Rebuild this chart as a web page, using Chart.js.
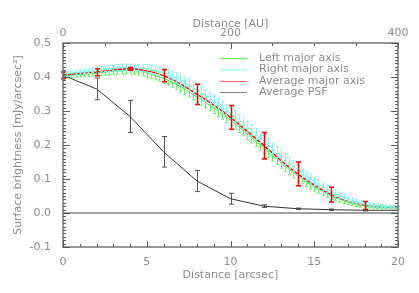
<!DOCTYPE html>
<html><head><meta charset="utf-8">
<script src="https://cdn.jsdelivr.net/npm/chart.js@4.4.1/dist/chart.umd.min.js"></script>
<style>html,body{margin:0;padding:0;background:#fff}canvas{display:block}</style>
</head><body>
<canvas id="c" width="419" height="293"></canvas>
<script>
// ---- data ----
const avgX = [0,1,2,3,4,5,6,7,8,9,10,11,12,13,14,15,16,17,18,19,20];
const avgY = [0.405,0.410,0.414,0.420,0.424,0.418,0.404,0.380,0.349,0.317,0.281,0.240,0.198,0.155,0.115,0.082,0.054,0.034,0.022,0.017,0.0155];
const avgErrX = [0,2,4,6,8,10,12,14,16,18];
const avgErr = [0.010,0.010,0.004,0.018,0.030,0.035,0.039,0.035,0.022,0.012];

const fineX = [0,0.25,0.5,0.75,1,1.25,1.5,1.75,2,2.25,2.5,2.75,3,3.25,3.5,3.75,4,4.25,4.5,4.75,5,5.25,5.5,5.75,6,6.25,6.5,6.75,7,7.25,7.5,7.75,8,8.25,8.5,8.75,9,9.25,9.5,9.75,10,10.25,10.5,10.75,11,11.25,11.5,11.75,12,12.25,12.5,12.75,13,13.25,13.5,13.75,14,14.25,14.5,14.75,15,15.25,15.5,15.75,16,16.25,16.5,16.75,17,17.25,17.5,17.75,18,18.25,18.5,18.75,19,19.25,19.5,19.75,20];
const leftY = [0.403,0.404,0.405,0.406,0.407,0.408,0.409,0.410,0.411,0.413,0.414,0.415,0.417,0.418,0.418,0.419,0.419,0.418,0.416,0.414,0.411,0.408,0.404,0.400,0.396,0.391,0.385,0.379,0.372,0.365,0.357,0.349,0.341,0.333,0.325,0.317,0.309,0.300,0.291,0.282,0.273,0.263,0.253,0.243,0.232,0.222,0.211,0.201,0.190,0.179,0.169,0.159,0.148,0.138,0.128,0.119,0.109,0.100,0.092,0.084,0.077,0.070,0.063,0.057,0.050,0.045,0.041,0.036,0.032,0.029,0.026,0.023,0.021,0.020,0.019,0.018,0.017,0.016,0.016,0.015,0.015];
const rightY = [0.407,0.409,0.411,0.413,0.415,0.417,0.418,0.420,0.421,0.423,0.424,0.425,0.426,0.427,0.428,0.428,0.428,0.428,0.427,0.426,0.425,0.423,0.420,0.417,0.413,0.409,0.404,0.398,0.392,0.385,0.378,0.370,0.362,0.354,0.346,0.338,0.330,0.321,0.312,0.303,0.294,0.284,0.274,0.264,0.254,0.244,0.233,0.223,0.212,0.201,0.190,0.179,0.168,0.158,0.148,0.138,0.128,0.118,0.109,0.101,0.093,0.085,0.078,0.071,0.064,0.058,0.052,0.046,0.041,0.037,0.033,0.030,0.027,0.025,0.023,0.021,0.020,0.019,0.018,0.018,0.017];
const leftErr = [0.007,0.007,0.007,0.007,0.007,0.007,0.007,0.007,0.008,0.008,0.008,0.008,0.008,0.010,0.010,0.010,0.010,0.010,0.010,0.010,0.012,0.012,0.012,0.012,0.015,0.015,0.015,0.015,0.016,0.016,0.016,0.016,0.016,0.016,0.016,0.016,0.016,0.016,0.016,0.016,0.016,0.016,0.016,0.016,0.016,0.016,0.016,0.016,0.016,0.016,0.016,0.016,0.016,0.016,0.016,0.016,0.015,0.014,0.014,0.013,0.013,0.012,0.012,0.011,0.010,0.009,0.009,0.008,0.008,0.007,0.007,0.006,0.006,0.005,0.005,0.005,0.005,0.004,0.004,0.004,0.004];
const rightErr = [0.007,0.007,0.007,0.007,0.007,0.007,0.007,0.007,0.008,0.008,0.008,0.008,0.008,0.010,0.010,0.010,0.010,0.010,0.010,0.010,0.012,0.012,0.012,0.012,0.015,0.015,0.015,0.015,0.016,0.016,0.016,0.016,0.016,0.016,0.016,0.016,0.016,0.016,0.016,0.016,0.016,0.016,0.016,0.016,0.016,0.016,0.016,0.016,0.016,0.016,0.016,0.016,0.016,0.016,0.016,0.016,0.015,0.014,0.014,0.013,0.013,0.012,0.012,0.011,0.010,0.009,0.009,0.008,0.008,0.007,0.007,0.006,0.006,0.005,0.005,0.005,0.005,0.004,0.004,0.004,0.004];

const psfX = [0,2,4,6,8,10,12,14,16,18,20];
const psfY = [0.405,0.365,0.284,0.180,0.094,0.042,0.020,0.0126,0.0097,0.008,0.008];
const psfErr = [0,0.032,0.047,0.045,0.031,0.016,0.004,0.002,0.002,0.002,0];

const zeroX = [0,20];
const zeroY = [0,0];

const xTicks = [0,5,10,15,20];
const auTicks = [0,200,400];
const yTicks = [-0.1,0.0,0.1,0.2,0.3,0.4,0.5];

const legendLabels = ['Left major axis','Right major axis','Average major axis','Average PSF'];
const legendColors = ['#5cf05c','#80f8ff','#ff6060','#808080'];

// ---- build ----
const pts = (xs, ys) => xs.map((x,i)=>({x, y: ys[i]}));
const FONT = '"DejaVu Sans", sans-serif';
const TXT = '#8c8c8c';

const datasets = [
  {label:'Right major axis', data: pts(fineX,rightY), errs: rightErr, errColor:'#80f8ff', cap:1.5, borderColor:'#80f8ff', borderWidth:1, pointRadius:0, tension:0.3},
  {label:'Left major axis', data: pts(fineX,leftY), errs: leftErr, errColor:'#66f266', cap:1.5, borderColor:'#44ee44', borderWidth:1, pointRadius:0, tension:0.3},
  {label:'zero', data: pts(zeroX,zeroY), borderColor:'#a0a0a0', borderWidth:2, pointRadius:0},
  {label:'Average PSF', data: pts(psfX,psfY), errs: psfErr, errColor:'#555555', cap:2.5, borderColor:'#333333', borderWidth:1, pointRadius:0, tension:0},
  {label:'Average major axis', data: pts(avgX,avgY), borderColor:'#ff0000', borderWidth:1.5, pointRadius:0, cubicInterpolationMode:'monotone'},
];

const errPlugin = {
  id:'errs',
  beforeDatasetDraw(chart, args){
    const ds = chart.data.datasets[args.index];
    if(!ds.errs) return;
    const xs = chart.scales.x, ys = chart.scales.y, ctx = chart.ctx;
    ctx.save();
    ctx.strokeStyle = ds.errColor; ctx.lineWidth = 1;
    ds.data.forEach((p,i)=>{
      const e = ds.errs[i]; if(!e) return;
      const px = Math.round(xs.getPixelForValue(p.x))+0.5;
      const y1 = ys.getPixelForValue(p.y+e), y2 = ys.getPixelForValue(p.y-e);
      ctx.beginPath();
      ctx.moveTo(px,y1); ctx.lineTo(px,y2);
      ctx.moveTo(px-ds.cap,y1); ctx.lineTo(px+ds.cap,y1);
      ctx.moveTo(px-ds.cap,y2); ctx.lineTo(px+ds.cap,y2);
      ctx.stroke();
    });
    ctx.restore();
  },
  afterDatasetsDraw(chart){
    const xs = chart.scales.x, ys = chart.scales.y, ctx = chart.ctx;
    ctx.save(); ctx.strokeStyle='#ff0000'; ctx.lineWidth=1.5;
    avgErrX.forEach((x,i)=>{
      const y = avgY[avgX.indexOf(x)], e = avgErr[i];
      const px = Math.round(xs.getPixelForValue(x))+0.5;
      const y1 = ys.getPixelForValue(y+e), y2 = ys.getPixelForValue(y-e);
      ctx.beginPath();
      ctx.moveTo(px,y1); ctx.lineTo(px,y2);
      ctx.moveTo(px-2.5,y1); ctx.lineTo(px+2.5,y1);
      ctx.moveTo(px-2.5,y2); ctx.lineTo(px+2.5,y2);
      ctx.stroke();
    });
    ctx.restore();
  }
};

const framePlugin = {
  id:'frame',
  afterDraw(chart){
    const ctx = chart.ctx;
    const a = chart.chartArea;
    const xs = chart.scales.x, x2 = chart.scales.x2, ys = chart.scales.y;
    ctx.save();
    ctx.strokeStyle = '#777777'; ctx.lineWidth = 1.5;
    ctx.strokeRect(a.left, a.top, a.right-a.left, a.bottom-a.top);
    ctx.restore();
    ctx.save();
    ctx.fillStyle = '#5a5a5a';
    const L0 = Math.round(a.left), R0 = Math.round(a.right), T0 = Math.round(a.top), B0 = Math.round(a.bottom);
    for(let v=0; v<=20; v+=1){
      const px = Math.round(xs.getPixelForValue(v));
      const L = (v%5===0)?6:3;
      ctx.fillRect(px, B0-L, 1, L);
    }
    for(let v=0; v<=400; v+=50){
      const px = Math.round(x2.getPixelForValue(v));
      const L = (v%200===0)?6:3;
      ctx.fillRect(px, T0, 1, L);
    }
    for(let k=-10; k<=50; k++){
      const py = Math.round(ys.getPixelForValue(k/100));
      const L = (k%10===0)?7:3;
      ctx.fillRect(L0, py, L, 1);
      ctx.fillRect(R0-L, py, L, 1);
    }
    ctx.restore();
    ctx.save();
    ctx.fillStyle = TXT;
    ctx.font = '11px ' + FONT;
    ctx.textAlign = 'center'; ctx.textBaseline = 'middle';
    const cx = (a.left+a.right)/2;
    ctx.fillText('Distance [arcsec]', cx, 275);
    ctx.fillText('Distance [AU]', cx, 24);
    ctx.save();
    ctx.translate(18,(a.top+a.bottom)/2); ctx.rotate(-Math.PI/2);
    ctx.fillText('Surface brightness [mJy/arcsec\u00B2]', 0, 0);
    ctx.restore();
    ctx.textAlign='left';
    const ly = [58,69.5,81,92];
    legendLabels.forEach((t,i)=>{
      ctx.strokeStyle = legendColors[i]; ctx.lineWidth = 1;
      ctx.beginPath(); ctx.moveTo(220, ly[i]+0.5); ctx.lineTo(247, ly[i]+0.5); ctx.stroke();
      ctx.fillText(t, 259, ly[i]);
    });
    ctx.restore();
  }
};

new Chart(document.getElementById('c'), {
  type:'line',
  data:{datasets},
  plugins:[errPlugin, framePlugin],
  options:{
    responsive:false, animation:false, devicePixelRatio:1,
    layout:{padding:{left:0,right:21,top:0,bottom:0}},
    plugins:{legend:{display:false}, tooltip:{enabled:false}},
    scales:{
      x:{type:'linear', position:'bottom', min:0, max:20,
         afterBuildTicks(s){ s.ticks = xTicks.map(v=>({value:v})); },
         afterFit(s){ s.height = 46; },
         grid:{display:false, drawTicks:false}, border:{display:false},
         ticks:{color:TXT, font:{family:FONT,size:11}, padding:9, maxRotation:0, autoSkip:false}},
      x2:{type:'linear', position:'top', min:0, max:400, display:true,
         afterBuildTicks(s){ s.ticks = auTicks.map(v=>({value:v})); },
         afterFit(s){ s.height = 43; },
         grid:{display:false, drawTicks:false}, border:{display:false},
         ticks:{color:TXT, font:{family:FONT,size:11}, padding:3, maxRotation:0, autoSkip:false}},
      y:{type:'linear', min:-0.1, max:0.5,
         afterBuildTicks(s){ s.ticks = yTicks.map(v=>({value:v})); },
         afterFit(s){ s.width = 63; },
         grid:{display:false, drawTicks:false}, border:{display:false},
         ticks:{color:TXT, font:{family:FONT,size:11}, padding:12, callback:v=>v.toFixed(1)}}
    }
  }
});
</script>
</body></html>
